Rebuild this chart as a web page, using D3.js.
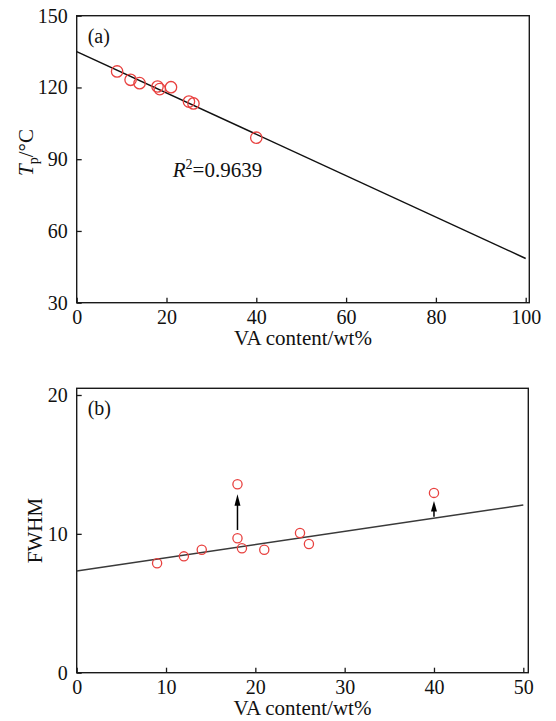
<!DOCTYPE html>
<html><head><meta charset="utf-8">
<script src="https://cdn.jsdelivr.net/npm/d3@7"></script>
<style>
body{margin:0;background:#fff}
svg{display:block}
text{font-family:"Liberation Serif","Times New Roman",serif;fill:#111}
</style>
</head><body>
<svg id="chart" width="556" height="721"></svg>
<script>
// Panel (a): peak temperature Tp against VA content
const vaA = [9, 12, 14, 18, 18.5, 21, 25, 26, 40];
const tpA = [126.7, 123.2, 121.8, 120.4, 119.3, 120.1, 114.1, 113.3, 99.0];
const fitA = [135.0, -0.865];          // intercept, slope
const fitRangeA = [0, 100];
const xTicksA = [0, 20, 40, 60, 80, 100];
const yTicksA = [30, 60, 90, 120, 150];
const r2Text = "=0.9639";
const r2At = [21.4, 82.7];

// Panel (b): FWHM against VA content
const vaB = [9, 12, 14, 18, 18, 18.5, 21, 25, 26, 40];
const fwhmB = [7.88, 8.38, 8.86, 13.57, 9.68, 8.96, 8.86, 10.06, 9.27, 12.95];
const fitB = [7.32, 0.0952];
const fitRangeB = [0, 50];
const arrowX = [18, 40];
const arrowFrom = [10.28, 11.24];
const arrowTo = [12.85, 12.37];
const xTicksB = [0, 10, 20, 30, 40, 50];
const yTicksB = [0, 10, 20];

const svg = d3.select("#chart");
const RED = "#e8413f";

function panel(o) {
  const g = svg.append("g");
  const x = d3.scaleLinear().domain(o.xDomain).range([o.left, o.xEnd]);
  const y = d3.scaleLinear().domain(o.yDomain).range([o.bottom, o.yEnd]);

  // frame
  g.append("rect")
    .attr("x", o.left).attr("y", o.top)
    .attr("width", o.right - o.left).attr("height", o.bottom - o.top)
    .attr("fill", "none").attr("stroke", "#1a1a1a").attr("stroke-width", 1.4);

  const xa = g.append("g").attr("transform", `translate(0,${o.bottom})`)
    .call(d3.axisBottom(x).tickValues(o.xTicks).tickSizeInner(-5).tickSizeOuter(0).tickPadding(7.5));
  const ya = g.append("g").attr("transform", `translate(${o.left},0)`)
    .call(d3.axisLeft(y).tickValues(o.yTicks).tickSizeInner(-5).tickSizeOuter(0).tickPadding(9));
  [xa, ya].forEach(a => {
    a.select(".domain").remove();
    a.selectAll(".tick line").attr("stroke", "#1a1a1a").attr("stroke-width", 1.3);
    a.selectAll(".tick text").attr("font-size", 20).attr("fill", "#111")
      .style("font-family", '"Liberation Serif", serif');
  });

  // fit line
  g.append("line")
    .attr("x1", x(o.fitRange[0])).attr("y1", y(o.fit[0] + o.fit[1] * o.fitRange[0]))
    .attr("x2", x(o.fitRange[1])).attr("y2", y(o.fit[0] + o.fit[1] * o.fitRange[1]))
    .attr("stroke", o.lineColor).attr("stroke-width", 1.5);

  // points
  g.selectAll("circle.pt").data(o.xs.map((v, i) => [v, o.ys[i]])).join("circle")
    .attr("class", "pt")
    .attr("cx", d => x(d[0])).attr("cy", d => y(d[1])).attr("r", o.r)
    .attr("fill", "none").attr("stroke", RED).attr("stroke-width", 1.3);

  // x label
  g.append("text").attr("x", (o.left + o.right) / 2).attr("y", o.bottom + 42.5)
    .attr("text-anchor", "middle").attr("font-size", 21).text("VA content/wt%");

  // panel tag
  g.append("text").attr("x", o.left + 11).attr("y", o.top + 27)
    .attr("font-size", 20).text(o.tag);

  return {g, x, y};
}

// ---- panel (a)
const A = panel({
  left: 76.7, right: 529.3, top: 15.7, bottom: 302.7,
  xDomain: [0, 100], xEnd: 525.7, yDomain: [30, 150], yEnd: 15.7,
  xTicks: xTicksA, yTicks: yTicksA, fit: fitA, fitRange: fitRangeA,
  xs: vaA, ys: tpA, r: 5.7, lineColor: "#111", tag: "(a)"
});
const ylA = A.g.append("text")
  .attr("transform", "translate(33,152.5) rotate(-90)")
  .attr("text-anchor", "middle").attr("font-size", 21);
ylA.append("tspan").attr("font-style", "italic").text("T");
ylA.append("tspan").attr("font-size", 14).attr("dy", 5).text("p");
ylA.append("tspan").attr("dy", -5).text("/°C");

const r2 = A.g.append("text")
  .attr("x", A.x(r2At[0])).attr("y", A.y(r2At[1])).attr("font-size", 21);
r2.append("tspan").attr("font-style", "italic").text("R");
r2.append("tspan").attr("font-size", 14).attr("dy", -8).text("2");
r2.append("tspan").attr("dy", 8).text(r2Text);

// ---- panel (b)
const B = panel({
  left: 76.7, right: 528.3, top: 388.3, bottom: 672.7,
  xDomain: [0, 50], xEnd: 523.3, yDomain: [0, 20], yEnd: 395,
  xTicks: xTicksB, yTicks: yTicksB, fit: fitB, fitRange: fitRangeB,
  xs: vaB, ys: fwhmB, r: 4.6, lineColor: "#3a3a3a", tag: "(b)"
});
B.g.append("text")
  .attr("transform", "translate(42,530.5) rotate(-90)")
  .attr("text-anchor", "middle").attr("font-size", 21).text("FWHM");

// upward arrows
const heads = [11.5, 10.5];
arrowX.forEach((v, i) => {
  const cx = B.x(v), y0 = B.y(arrowFrom[i]), y1 = B.y(arrowTo[i]);
  const h = heads[i], w = 3;
  B.g.append("line").attr("x1", cx).attr("x2", cx).attr("y1", y0).attr("y2", y1 + h - 1)
    .attr("stroke", "#000").attr("stroke-width", 1.5);
  B.g.append("path")
    .attr("d", `M${cx},${y1} L${cx - w},${y1 + h} L${cx + w},${y1 + h} Z`)
    .attr("fill", "#000");
});
</script>
</body></html>
